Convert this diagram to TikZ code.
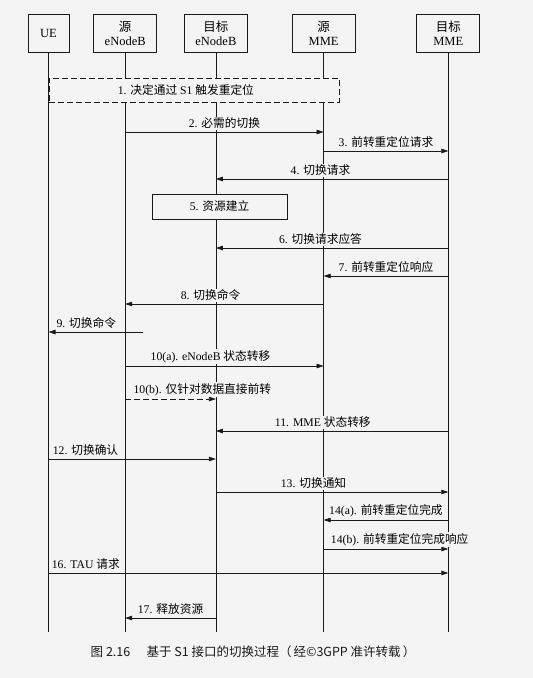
\documentclass[tikz,border=0pt]{standalone}
\usepackage{fontspec}
\setmainfont{Liberation Serif}
\newfontfamily\cjk{Noto Sans CJK SC}
\newcommand{\zh}[1]{{\cjk #1}}
\usetikzlibrary{arrows.meta, positioning}
\definecolor{paper}{HTML}{F4F4F4}
\definecolor{ink}{HTML}{1A1A1A}

\begin{document}
\begin{tikzpicture}[x=1pt, y=-1pt,
  hdr/.style={draw=ink, line width=0.7pt, minimum width=63pt, minimum height=38pt,
    align=center, inner sep=1pt, font=\fontsize{12.5}{14}\selectfont},
  life/.style={draw=ink, line width=0.8pt},
  msg/.style={-{Triangle[length=7pt, width=4.5pt]}, draw=ink, line width=0.7pt},
  lbl/.style={fill=paper, inner sep=1pt, above=2pt, font=\fontsize{11.7}{13}\selectfont},
  stepbox/.style={draw=ink, line width=0.7pt, fill=paper, font=\fontsize{11.7}{13}\selectfont},
]

% page
\fill[paper] (0,0) rectangle (533,678);
\useasboundingbox (0,0) rectangle (533,678);

% header boxes
\node[hdr, minimum width=41pt] (ue) at (48.5,33) {UE};
\node[hdr, right=24pt of ue] (senb) {\zh{源}\\eNodeB};
\node[hdr, right=27pt of senb] (tenb) {\zh{目标}\\eNodeB};
\node[hdr, right=44pt of tenb] (smme) {\zh{源}\\MME};
\node[hdr, right=61pt of smme] (tmme) {\zh{目标}\\MME};

% lifelines
\foreach \n in {ue, senb, tenb, smme, tmme}
  \draw[life] (\n.south) -- (\n |- 0,632);

% 1. decision
\node[stepbox, dashed, dash pattern=on 6pt off 3pt, anchor=north west,
      minimum width=290pt, minimum height=24pt] (s1) at (ue |- 0,78)
  {1. \zh{决定通过} S1 \zh{触发重定位}\hspace*{16pt}};

% messages
\draw[msg] (senb |- 0,132) -- node[lbl] {2. \zh{必需的切换}} (smme |- 0,132);
\draw[msg] (smme |- 0,151) -- node[lbl] {3. \zh{前转重定位请求}} (tmme |- 0,151);
\draw[msg] (tmme |- 0,179) -- node[lbl, pos=0.55] {4. \zh{切换请求}} (tenb |- 0,179);

\node[stepbox, minimum width=135pt, minimum height=25pt] (res) at (219.5,206.5)
  {5. \zh{资源建立}};

\draw[msg] (tmme |- 0,248) -- node[lbl, pos=0.55] {6. \zh{切换请求应答}} (tenb |- 0,248);
\draw[msg] (tmme |- 0,276) -- node[lbl] {7. \zh{前转重定位响应}} (smme |- 0,276);
\draw[msg] (smme |- 0,304) -- node[lbl, pos=0.57] {8. \zh{切换命令}} (senb |- 0,304);

\coordinate (cmd9) at (143,332);
\draw[msg] (cmd9) -- node[lbl, pos=0.6] {9. \zh{切换命令}} (ue |- cmd9);

\draw[msg] (senb |- 0,366) -- node[lbl, pos=0.43] {10(a). eNodeB \zh{状态转移}} (smme |- 0,366);
\draw[msg, dash pattern=on 6pt off 3pt] (senb |- 0,399)
  -- node[lbl, pos=0, anchor=south west, xshift=7pt] {10(b). \zh{仅针对数据直接前转}} (tenb |- 0,399);
\draw[msg] (tmme |- 0,431) -- node[lbl, pos=0.54] {11. MME \zh{状态转移}} (tenb |- 0,431);
\draw[msg] (ue |- 0,459) -- node[lbl, pos=0, anchor=south west, xshift=3pt] {12. \zh{切换确认}} (tenb |- 0,459);
\draw[msg] (tenb |- 0,492) -- node[lbl, pos=0.42] {13. \zh{切换通知}} (tmme |- 0,492);
\draw[msg] (tmme |- 0,520) -- node[lbl] {14(a). \zh{前转重定位完成}} (smme |- 0,520);
\draw[msg] (smme |- 0,549)
  -- node[lbl, pos=0, anchor=south west, xshift=6pt] {14(b). \zh{前转重定位完成响应}} (tmme |- 0,549);
\draw[msg] (ue |- 0,573) -- node[lbl, pos=0, anchor=south west, xshift=2pt] {16. TAU \zh{请求}} (tmme |- 0,573);
\draw[msg] (tenb |- 0,618) -- node[lbl] {17. \zh{释放资源}} (senb |- 0,618);

% caption
\node[font=\cjk\fontsize{12.5}{14}\selectfont, text=ink] (cap) at (253,652)
  {图 2.16\hspace{1.3em}基于 S1 接口的切换过程（\,经©3GPP 准许转载\,）};

\end{tikzpicture}
\end{document}
